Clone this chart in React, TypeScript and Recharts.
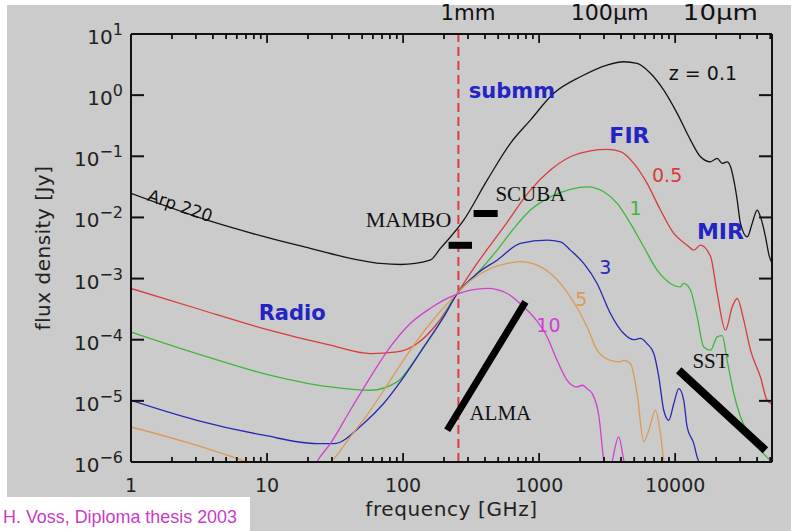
import React from "react";
import { Line, LineChart, ReferenceDot, ReferenceLine, XAxis, YAxis } from "recharts";

type Pt = [number, number];

// frequency [GHz], flux density [Jy]
const sedZ01: Pt[] = [
  [1, 0.0247], [3.64, 0.009], [10, 0.0047], [20.8, 0.00311], [29.2, 0.00257],
  [68.1, 0.00177], [95.5, 0.0017], [158, 0.002], [188, 0.00311], [279, 0.009],
  [415, 0.0407], [615, 0.163], [863, 0.391], [1280, 1.07], [2014, 2.0],
  [3162, 3.11], [4188, 3.52], [5250, 3.31], [6577, 2.28], [8241, 1.21],
  [10350, 0.504], [12970, 0.184], [15350, 0.0982], [18160, 0.0813], [20370, 0.0923],
  [22180, 0.0766], [24100, 0.0813], [25530, 0.0673], [26980, 0.0407], [28580, 0.0192],
  [30200, 0.00798], [33880, 0.00481], [36810, 0.00798], [40090, 0.0132], [42360, 0.0102],
  [46130, 0.00481], [49000, 0.0024], [51500, 0.00178],
];

const sedZ05: Pt[] = [
  [1, 6.89e-4], [3.05, 3.24e-4], [9.44, 1.52e-4], [29.2, 8.13e-5], [57.5, 5.94e-5],
  [90.4, 6.31e-5], [127, 8.65e-5], [178, 1.84e-4], [249, 5.7e-4], [350, 1.77e-3],
  [550, 7.0e-3], [863, 0.028], [1211, 0.0594], [1698, 0.0982], [2382, 0.123],
  [3162, 0.13], [3963, 0.119], [4966, 0.0766], [6223, 0.036], [7798, 0.0132],
  [9772, 5.47e-3], [12250, 3.52e-3], [13710, 2.92e-3], [15350, 3.52e-3], [18200, 2.29e-3],
  [20370, 5.7e-4], [23440, 1.43e-4], [26240, 3.44e-4], [28580, 4.72e-4], [31920, 2.09e-4],
  [35810, 6.76e-5], [42360, 2.45e-5], [47420, 1.02e-5], [51500, 8.9e-6],
];

const sedZ1: Pt[] = [
  [1, 1.34e-4], [3.05, 5.94e-5], [9.44, 2.8e-5], [29.2, 1.69e-5], [57.5, 1.49e-5],
  [90.4, 2.04e-5], [127, 5.25e-5], [178, 1.6e-4], [249, 5.7e-4], [350, 1.21e-3],
  [491, 2.92e-3], [646, 6.45e-3], [863, 0.0132], [1211, 0.0217], [1698, 0.0288],
  [2254, 0.0316], [2985, 0.0263], [3750, 0.017], [4688, 7.98e-3], [5875, 3.31e-3],
  [7379, 1.37e-3], [9226, 8.32e-4], [10910, 7.31e-4], [11560, 8.32e-4], [12970, 6.46e-4],
  [14520, 2.36e-4], [16220, 7.62e-5], [18200, 6.76e-5], [20370, 1.11e-4], [22180, 1.17e-4],
  [24100, 4.61e-5], [26980, 1.32e-5], [30200, 5.5e-6], [35810, 2.57e-6], [42360, 1.55e-6],
  [51500, 1.0e-6],
];

const sedZ3: Pt[] = [
  [1, 1.02e-5], [3.05, 4.81e-6], [9.44, 2.74e-6], [23.3, 2.0e-6], [30.9, 2.0e-6],
  [51.3, 4.27e-6], [71.9, 9.04e-6], [101, 2.45e-5], [142, 7.62e-5], [199, 2.36e-4],
  [251, 5.7e-4], [350, 1.21e-3], [491, 2.0e-3], [728, 3.75e-3], [1146, 4.26e-3],
  [1435, 3.99e-3], [1698, 2.92e-3], [2128, 1.77e-3], [2667, 8.32e-4], [3342, 2.69e-4],
  [4188, 1.26e-4], [4955, 1.0e-4], [5546, 1.05e-4], [6209, 8.65e-5], [6966, 5.94e-5],
  [7586, 2.45e-5], [8241, 7.02e-6], [8974, 4.81e-6], [9772, 9.04e-6], [10640, 1.58e-5],
  [11560, 1.02e-5], [12250, 3.72e-6], [13710, 2.0e-6], [14520, 1.2e-6], [15850, 7.9e-7],
];

const sedZ5: Pt[] = [
  [1, 3.74e-6], [3.05, 1.87e-6], [7.13, 1.0e-6], [12.6, 6.3e-7], [20, 6.3e-7],
  [29.4, 1.0e-6], [40.9, 2.57e-6], [57.5, 7.02e-6], [80.5, 2.17e-5], [113, 6.76e-5],
  [158, 1.84e-4], [223, 4.44e-4], [313, 9.33e-4], [439, 1.46e-3], [615, 1.81e-3],
  [724, 1.9e-3], [912, 1.74e-3], [1211, 1.21e-3], [1698, 5.01e-4], [2254, 1.62e-4],
  [2667, 6.76e-5], [3342, 4.61e-5], [3963, 4.34e-5], [4188, 4.61e-5], [4688, 4.07e-5],
  [5250, 1.32e-5], [5875, 2.14e-6], [6397, 3.3e-6], [7161, 7.02e-6], [7798, 2.88e-6],
  [8241, 1.07e-6], [8913, 6.3e-7],
];

const sedZ10: Pt[] = [
  [20, 5e-7], [23.2, 1e-6], [29.2, 2.0e-6], [40.9, 7.02e-6], [57.5, 2.45e-5],
  [80.5, 7.62e-5], [113, 1.84e-4], [158, 3.24e-4], [223, 5.01e-4], [313, 6.46e-4],
  [415, 6.89e-4], [582, 5.7e-4], [771, 3.44e-4], [912, 2.36e-4], [1146, 1.11e-4],
  [1355, 4.61e-5], [1607, 2.17e-5], [1905, 1.69e-5], [2070, 1.8e-5], [2254, 1.58e-5],
  [2455, 1.32e-5], [2754, 5.5e-6], [2985, 1.07e-6], [3236, 5e-7], [3443, 1e-6],
  [3846, 2.57e-6], [4188, 1.07e-6], [4571, 4e-7],
];

// instrument sensitivities
const mamboBar: Pt[] = [[216, 3.5e-3], [321, 3.5e-3]];
const scubaBar: Pt[] = [[330, 0.0116], [496, 0.0116]];
const almaBand: Pt[] = [[211, 3.3e-6], [793, 4.16e-4]];
const sstBand: Pt[] = [[10620, 3.17e-5], [46100, 1.56e-6]];

const mmLine = 255;

const xMajorTicks = [1, 10, 100, 1000, 10000];
const xMinorTicks = [
  2, 3, 4, 5, 6, 7, 8, 9, 20, 30, 40, 50, 60, 70, 80, 90,
  200, 300, 400, 500, 600, 700, 800, 900, 2000, 3000, 4000, 5000, 6000, 7000, 8000, 9000,
  20000, 30000, 40000, 50000,
];
const yTicks = [1e-6, 1e-5, 1e-4, 1e-3, 1e-2, 1e-1, 1, 10];

const wavelengthLabels = [
  { f: 300, text: "1mm", w: 55 },
  { f: 3300, text: "100\u00b5m", w: 78 },
  { f: 21500, text: "10\u00b5m", w: 75 },
];

const SANS = "'DejaVu Sans', sans-serif";
const SERIF = "'Liberation Serif', serif";
const BLUE = "#2424c4";

const annotations = [
  { text: "Arp 220", f: 2.3, s: 0.0156, color: "#111", font: SANS, size: 17, angle: 19, bold: false },
  { text: "MAMBO", f: 109.6, s: 0.00938, color: "#111", font: SERIF, size: 22, angle: 0, bold: false },
  { text: "SCUBA", f: 863, s: 0.0245, color: "#111", font: SERIF, size: 21, angle: 0, bold: false },
  { text: "ALMA", f: 519, s: 6.38e-6, color: "#111", font: SERIF, size: 21, angle: 0, bold: false },
  { text: "SST", f: 18200, s: 4.53e-5, color: "#111", font: SERIF, size: 21, angle: 0, bold: false },
  { text: "z = 0.1", f: 16000, s: 2.27, color: "#111", font: SANS, size: 19, angle: 0, bold: false },
  { text: "0.5", f: 8730, s: 0.0492, color: "#d83c3c", font: SANS, size: 19, angle: 0, bold: false },
  { text: "1", f: 5105, s: 0.0145, color: "#3cb83c", font: SANS, size: 19, angle: 0, bold: false },
  { text: "3", f: 3070, s: 1.57e-3, color: "#2828b4", font: SANS, size: 19, angle: 0, bold: false },
  { text: "5", f: 2046, s: 4.72e-4, color: "#dc9a55", font: SANS, size: 19, angle: 0, bold: false },
  { text: "10", f: 1170, s: 1.73e-4, color: "#d040d0", font: SANS, size: 19, angle: 0, bold: false },
  { text: "submm", f: 631, s: 1.15, color: BLUE, font: SANS, size: 21, angle: 0, bold: true },
  { text: "FIR", f: 4613, s: 0.217, color: BLUE, font: SANS, size: 22, angle: 0, bold: true },
  { text: "MIR", f: 21530, s: 0.0058, color: BLUE, font: SANS, size: 22, angle: 0, bold: true },
  { text: "Radio", f: 15.3, s: 2.77e-4, color: BLUE, font: SANS, size: 21, angle: 0, bold: true },
];

const curves = [
  { name: "z=0.1", color: "#151515", pts: sedZ01 },
  { name: "z=0.5", color: "#d83c3c", pts: sedZ05 },
  { name: "z=1", color: "#3cb83c", pts: sedZ1 },
  { name: "z=3", color: "#2828b4", pts: sedZ3 },
  { name: "z=5", color: "#dc9a55", pts: sedZ5 },
  { name: "z=10", color: "#d040d0", pts: sedZ10 },
];

const bands = [
  { name: "MAMBO", pts: mamboBar, width: 7 },
  { name: "SCUBA", pts: scubaBar, width: 7 },
  { name: "ALMA", pts: almaBand, width: 7 },
  { name: "SST", pts: sstBand, width: 8 },
];

const toRows = (pts: Pt[]) => pts.map(([f, s]) => ({ f, s }));

const allXTicks = [...xMajorTicks, ...xMinorTicks].sort((a, b) => a - b);

const XBottomTick = (props: any) => {
  const { x, y, payload } = props;
  const major = xMajorTicks.includes(payload.value);
  return (
    <g>
      <line x1={x} x2={x} y1={y} y2={y - (major ? 9 : 5)} stroke="#111" strokeWidth={1.8} />
      {major && (
        <text x={x} y={y + 30} textAnchor="middle" fontFamily={SANS} fontSize={19} fill="#222">
          {payload.value}
        </text>
      )}
    </g>
  );
};

const XTopTick = (props: any) => {
  const { x, y, payload } = props;
  const major = xMajorTicks.includes(payload.value);
  return <line x1={x} x2={x} y1={y} y2={y + (major ? 9 : 5)} stroke="#111" strokeWidth={1.8} />;
};

const YLeftTick = (props: any) => {
  const { x, y, payload } = props;
  const exp = Math.round(Math.log10(payload.value));
  return (
    <g>
      <line x1={x} x2={x + 13} y1={y} y2={y} stroke="#111" strokeWidth={2} />
      <text x={x - 8} y={y + 10} textAnchor="end" fontFamily={SANS} fontSize={20} fill="#222">
        10
        <tspan dy={-9} fontSize={16}>
          {exp < 0 ? "\u2212" + -exp : String(exp)}
        </tspan>
      </text>
    </g>
  );
};

const YRightTick = (props: any) => {
  const { x, y } = props;
  return <line x1={x} x2={x - 13} y1={y} y2={y} stroke="#111" strokeWidth={2} />;
};

const App = () => {
  return (
    <div style={{ position: "absolute", left: 0, top: 0, width: 791, height: 531, background: "#fff", overflow: "hidden" }}>
      <div style={{ position: "absolute", left: 7, top: 5, width: 784, height: 526, background: "#cbcbcb" }} />
      <div style={{ position: "absolute", left: 7, top: 0, width: 784, height: 531 }}>
        <LineChart width={784} height={531} margin={{ top: 0, right: 0, bottom: 0, left: 0 }}>
          <XAxis
            xAxisId={0}
            dataKey="f"
            type="number"
            scale="log"
            domain={[1, 51500]}
            allowDataOverflow
            ticks={allXTicks}
            interval={0}
            tick={<XBottomTick />}
            tickSize={0}
            tickMargin={0}
            tickLine={false}
            axisLine={{ stroke: "#111", strokeWidth: 2 }}
            height={69}
            label={(p: any) => {
              const vb = p.viewBox;
              return (
                <text
                  x={vb.x + vb.width / 2}
                  y={vb.y + 54}
                  textAnchor="middle"
                  fontFamily={SANS}
                  fontSize={20}
                  letterSpacing={0.6}
                  fill="#222"
                >
                  frequency [GHz]
                </text>
              );
            }}
          />
          <XAxis
            xAxisId="top"
            orientation="top"
            dataKey="f"
            type="number"
            scale="log"
            domain={[1, 51500]}
            allowDataOverflow
            ticks={allXTicks}
            interval={0}
            tick={<XTopTick />}
            tickSize={0}
            tickMargin={0}
            tickLine={false}
            axisLine={{ stroke: "#111", strokeWidth: 2 }}
            height={34}
          />
          <YAxis
            yAxisId={0}
            type="number"
            scale="log"
            domain={[1e-6, 10]}
            allowDataOverflow
            ticks={yTicks}
            interval={0}
            tick={<YLeftTick />}
            tickSize={0}
            tickMargin={0}
            tickLine={false}
            axisLine={{ stroke: "#111", strokeWidth: 2 }}
            width={124}
            label={(p: any) => {
              const vb = p.viewBox;
              const cx = vb.x + 43;
              const cy = vb.y + vb.height / 2;
              return (
                <text
                  x={cx}
                  y={cy}
                  transform={`rotate(-90, ${cx}, ${cy})`}
                  textAnchor="middle"
                  fontFamily={SANS}
                  fontSize={20}
                  letterSpacing={0.5}
                  fill="#222"
                >
                  flux density [Jy]
                </text>
              );
            }}
          />
          <YAxis
            yAxisId="right"
            orientation="right"
            type="number"
            scale="log"
            domain={[1e-6, 10]}
            allowDataOverflow
            ticks={yTicks}
            interval={0}
            tick={<YRightTick />}
            tickSize={0}
            tickMargin={0}
            tickLine={false}
            axisLine={{ stroke: "#111", strokeWidth: 2 }}
            width={19}
          />

          <ReferenceLine x={mmLine} stroke="#e03a44" strokeWidth={2} strokeDasharray="9 5" />

          {curves.map((c) => (
            <Line
              key={c.name}
              data={toRows(c.pts)}
              dataKey="s"
              name={c.name}
              type="monotone"
              stroke={c.color}
              strokeWidth={1.3}
              dot={false}
              activeDot={false}
              isAnimationActive={false}
            />
          ))}
          {bands.map((b) => (
            <Line
              key={b.name}
              data={toRows(b.pts)}
              dataKey="s"
              name={b.name}
              type="linear"
              stroke="#000"
              strokeWidth={b.width}
              dot={false}
              activeDot={false}
              isAnimationActive={false}
            />
          ))}

          {annotations.map((a) => (
            <ReferenceDot
              key={a.text + a.f}
              x={a.f}
              y={a.s}
              r={0}
              shape={(p: any) => (
                <text
                  x={p.cx}
                  y={p.cy}
                  textAnchor="middle"
                  dominantBaseline="central"
                  transform={a.angle ? `rotate(${a.angle}, ${p.cx}, ${p.cy})` : undefined}
                  fontFamily={a.font}
                  fontSize={a.size}
                  fontWeight={a.bold ? "bold" : "normal"}
                  fill={a.color}
                >
                  {a.text}
                </text>
              )}
            />
          ))}
          {wavelengthLabels.map((w) => (
            <ReferenceDot
              key={w.text}
              x={w.f}
              y={10}
              r={0}
              ifOverflow="visible"
              shape={(p: any) => (
                <text
                  x={p.cx}
                  y={p.cy - 14}
                  textAnchor="middle"
                  fontFamily={SANS}
                  fontSize={21}
                  textLength={w.w}
                  lengthAdjust="spacingAndGlyphs"
                  fill="#111"
                >
                  {w.text}
                </text>
              )}
            />
          ))}
        </LineChart>
      </div>
      <div style={{ position: "absolute", left: 0, top: 497, width: 250, height: 34, background: "#fff" }}>
        <svg width={250} height={34}>
          <text
            x={3}
            y={26}
            fontFamily="'Liberation Sans', sans-serif"
            fontSize={19}
            fill="#c83cc8"
            textLength={234}
            lengthAdjust="spacingAndGlyphs"
          >
            H. Voss, Diploma thesis 2003
          </text>
        </svg>
      </div>
    </div>
  );
};

export default App;
